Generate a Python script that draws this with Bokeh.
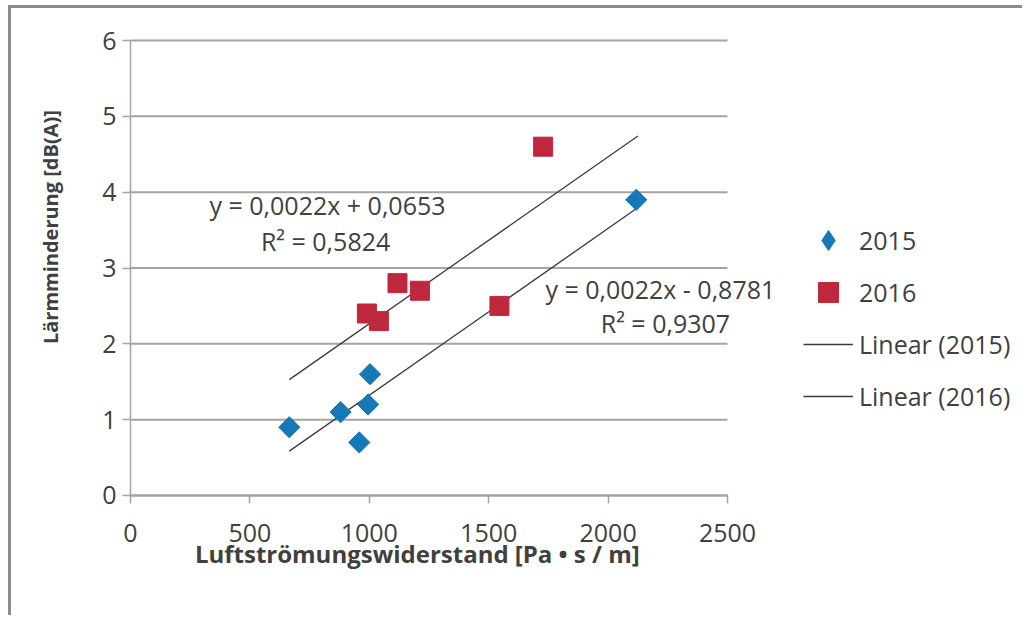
import math
from bokeh.plotting import figure
from bokeh.models import Range1d, Label, Legend, LegendItem, FixedTicker
from bokeh.embed import file_html
from bokeh.resources import INLINE

# ---- data ----
x2015 = [665, 880, 958, 995, 1003, 2118]
y2015 = [0.9, 1.1, 0.7, 1.2, 1.6, 3.9]
x2016 = [990, 1040, 1118, 1212, 1545, 1728]
y2016 = [2.4, 2.3, 2.8, 2.7, 2.5, 4.6]

trend_x = [665, 2125]
slope2015, icpt2015, r2_2015 = 0.0022, -0.8781, 0.9307
slope2016, icpt2016, r2_2016 = 0.0022, 0.0653, 0.5824

x_ticks = [0, 500, 1000, 1500, 2000, 2500]
y_ticks = [0, 1, 2, 3, 4, 5, 6]

FONT = "Open Sans"
TXT = "#404040"
GRID = "#a3a3a3"
BLUE = "#1479b6"
RED = "#bf273d"
LINE = "#3a3a3a"

X_MIN, X_MAX = 0, 2500
Y_MIN, Y_MAX = 0, 6

# the frame covers the whole canvas; axes sit at fixed data locations
p = figure(width=1014, height=610, output_backend="svg", toolbar_location=None,
           x_range=Range1d(-498.3, 3747.9), y_range=Range1d(-1.622, 6.422),
           min_border_left=0, min_border_right=0,
           min_border_top=0, min_border_bottom=0)
p.styles = {"margin": "5px 0 0 8px",
            "border-top": "3px solid #8c8c8c", "border-left": "3px solid #8c8c8c"}
p.outline_line_color = None
p.background_fill_color = "white"

# grid (drawn across the plot area only)
p.xgrid.visible = False
p.ygrid.visible = False
p.segment(x0=[X_MIN] * len(y_ticks), x1=[X_MAX] * len(y_ticks), y0=y_ticks, y1=y_ticks,
          line_color=GRID, line_width=2)

# x axis
p.xaxis.fixed_location = 0
p.xaxis.ticker = FixedTicker(ticks=x_ticks)
p.xaxis.bounds = (X_MIN, X_MAX)
p.xaxis.axis_line_color = GRID
p.xaxis.axis_line_width = 2
p.xaxis.major_tick_line_color = GRID
p.xaxis.major_tick_line_width = 1.5
p.xaxis.major_tick_out = 8
p.xaxis.major_tick_in = 0
p.xaxis.minor_tick_line_color = None
p.xaxis.major_label_standoff = 21
p.xaxis.major_label_text_font = FONT
p.xaxis.major_label_text_font_size = "25px"
p.xaxis.major_label_text_color = TXT

# y axis
p.yaxis.fixed_location = 0
p.yaxis.ticker = FixedTicker(ticks=y_ticks)
p.yaxis.bounds = (Y_MIN, Y_MAX)
p.yaxis.axis_line_color = GRID
p.yaxis.axis_line_width = 1.5
p.yaxis.major_tick_line_color = GRID
p.yaxis.major_tick_line_width = 1.5
p.yaxis.major_tick_out = 8
p.yaxis.major_tick_in = 0
p.yaxis.minor_tick_line_color = None
p.yaxis.major_label_standoff = 6
p.yaxis.major_label_text_font = FONT
p.yaxis.major_label_text_font_size = "25px"
p.yaxis.major_label_text_color = TXT

# axis titles
p.add_layout(Label(x=1214, y=-0.765, text="Luftströmungswiderstand  [Pa • s / m]",
                   text_align="center", text_baseline="middle",
                   text_font=FONT, text_font_style="bold", text_font_size="24px",
                   text_color=TXT))
p.add_layout(Label(x=-335, y=3.574, text="Lärmminderung  [dB(A)]", angle=math.pi / 2,
                   text_align="center", text_baseline="middle",
                   text_font=FONT, text_font_style="bold", text_font_size="20px",
                   text_color=TXT))

# trend lines
t15_y = [slope2015 * xv + icpt2015 for xv in trend_x]
t16_y = [slope2016 * xv + icpt2016 for xv in trend_x]
l15 = p.line(trend_x, t15_y, line_color=LINE, line_width=1.3)
l16 = p.line(trend_x, t16_y, line_color=LINE, line_width=1.3)

# points
s15 = p.scatter(x2015, y2015, marker="square", angle=math.pi / 4, size=15,
                fill_color=BLUE, line_color=BLUE)
s16 = p.scatter(x2016, y2016, marker="square", size=19,
                fill_color=RED, line_color=RED)
# legend key (draws nothing in the plot) so the legend shows a diamond
s15_key = p.scatter(x=[float("nan")], y=[float("nan")], marker="diamond", size=20,
                    fill_color=BLUE, line_color=BLUE)

# equation labels
def fmt(v):
    return f"{abs(v):.4f}".replace(".", ",")

eq16 = f"y = {fmt(slope2016)}x + {fmt(icpt2016)}"
eq15 = f"y = {fmt(slope2015)}x - {fmt(icpt2015)}"
for xx, yy, t in [(825, 3.83, eq16), (817, 3.36, f"R² = {fmt(r2_2016)}"),
                  (2219, 2.72, eq15), (2240, 2.28, f"R² = {fmt(r2_2015)}")]:
    p.add_layout(Label(x=xx, y=yy, text=t, text_align="center", text_baseline="middle",
                       text_font=FONT, text_font_size="25px", text_color=TXT))

legend = Legend(items=[LegendItem(label="2015", renderers=[s15_key]),
                       LegendItem(label="2016", renderers=[s16]),
                       LegendItem(label="Linear (2015)", renderers=[l15]),
                       LegendItem(label="Linear (2016)", renderers=[l16])],
                location=(792, 197), orientation="vertical",
                glyph_width=50, glyph_height=50, label_height=50, spacing=2,
                label_standoff=6, padding=0, margin=0,
                border_line_alpha=0, background_fill_alpha=0,
                label_text_font=FONT, label_text_font_size="25px",
                label_text_color=TXT)
p.add_layout(legend, "center")

open("out.html", "w").write(file_html(p, INLINE))
